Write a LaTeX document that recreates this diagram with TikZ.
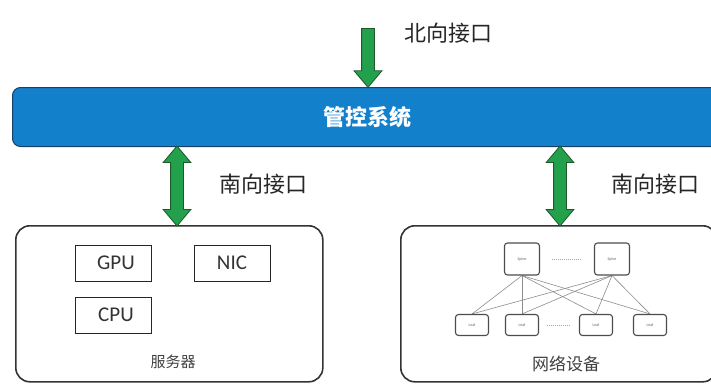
\documentclass[tikz,border=0pt]{standalone}
\usepackage{fontspec}
\setmainfont{Carlito}
\newfontfamily\cjk{Noto Sans CJK SC}
\usetikzlibrary{shapes.arrows,backgrounds}
\definecolor{barblue}{HTML}{1380CC}
\definecolor{baredge}{HTML}{1A3F66}
\definecolor{arrgreen}{HTML}{22A04B}
\definecolor{arredge}{HTML}{1C5A2E}
\definecolor{boxedge}{HTML}{333333}
\tikzset{
  outerbox/.style={draw=boxedge, line width=1.6pt, rounded corners=14pt},
  chip/.style={draw=black!85, line width=1pt, minimum width=76pt, minimum height=36pt, font=\fontsize{21}{21}\selectfont, text=black!80},
  netdev/.style={draw=black!70, line width=1.1pt, rounded corners=3pt, fill=white, font=\fontsize{4}{4}\selectfont, text=black!60},
  link/.style={draw=black!45, line width=0.6pt},
  darrow/.style={double arrow, draw=arredge, fill=arrgreen, line width=0.8pt, inner sep=6pt, double arrow head extend=7.5pt, double arrow tip angle=80, minimum height=80pt, rotate=90},
  sarrow/.style={single arrow, draw=arredge, fill=arrgreen, line width=0.8pt, inner sep=6pt, single arrow head extend=7.5pt, single arrow tip angle=80, minimum height=59pt, rotate=-90},
  lbl/.style={font=\cjk\fontsize{22}{22}\selectfont, text=black!85},
  dots/.style={draw=black!35, line width=0.6pt, dash pattern=on 1pt off 1pt}
}
\begin{document}
\begin{tikzpicture}[x=1pt,y=-1pt]
\useasboundingbox (0,0) rectangle (711,383);
\clip (0,0) rectangle (711,383);
% control bar
\node[draw=baredge, fill=barblue, line width=1pt, rounded corners=8pt, minimum width=712pt, minimum height=59pt, anchor=north west, inner sep=0pt] (bar) at (12,87) {};
\node[font=\cjk\bfseries\fontsize{22}{22}\selectfont, text=white] (bartxt) at (367,117) {管控系统};
% northbound arrow
\coordinate (ntop) at (368,28);
\node[sarrow, anchor=tail] (narr) at (ntop) {};
\node[lbl, anchor=west] (nlbl) at (401,33) {北向接口};
% boxes
\node[outerbox, minimum width=307pt, minimum height=156pt, anchor=north west, inner sep=0pt] (server) at (15,225) {};
\node[outerbox, minimum width=316pt, minimum height=156pt, anchor=north west, inner sep=0pt] (netbox) at (400,225) {};
% southbound arrows
\node[darrow] (sarrL) at (177,186) {};
\node[darrow] (sarrR) at (560,186) {};
\node[lbl, anchor=west] (slblL) at (216,184) {南向接口};
\node[lbl, anchor=west] (slblR) at (608,184) {南向接口};
% server contents
\node[chip, text width=56pt, align=center] (gpu) at (113,263) {\hspace*{6pt}GPU};
\node[chip, text width=56pt, align=center] (nic) at (232,263) {NIC};
\node[chip, text width=56pt, align=center] (cpu) at (113,315) {\hspace*{6pt}CPU};
\node[font=\cjk\fontsize{15}{15}\selectfont, text=black!75] (srvlbl) at (173,362) {服务器};
% network contents
\node[netdev, minimum width=35pt, minimum height=32pt] (sp1) at (522,259) {Spine};
\node[netdev, minimum width=35pt, minimum height=32pt] (sp2) at (612,259) {Spine};
\node[netdev, minimum width=33pt, minimum height=21pt] (lf1) at (472,325) {Leaf};
\node[netdev, minimum width=33pt, minimum height=21pt] (lf2) at (522,325) {Leaf};
\node[netdev, minimum width=33pt, minimum height=21pt] (lf3) at (596,325) {Leaf};
\node[netdev, minimum width=33pt, minimum height=21pt] (lf4) at (650,325) {Leaf};
\begin{scope}[on background layer]
\foreach \s in {sp1,sp2}{
  \foreach \l in {lf1,lf2,lf3,lf4}{
    \draw[link] (\s.south) -- (\l.north);
  }
}
\end{scope}
\draw[dots] ([xshift=12pt]sp1.east) -- ([xshift=-12pt]sp2.west);
\draw[dots] ([xshift=8pt]lf2.east) -- ([xshift=-8pt]lf3.west);
\node[font=\cjk\fontsize{17}{17}\selectfont, text=black!75] (netlbl) at (566,364) {网络设备};
\end{tikzpicture}
\end{document}
